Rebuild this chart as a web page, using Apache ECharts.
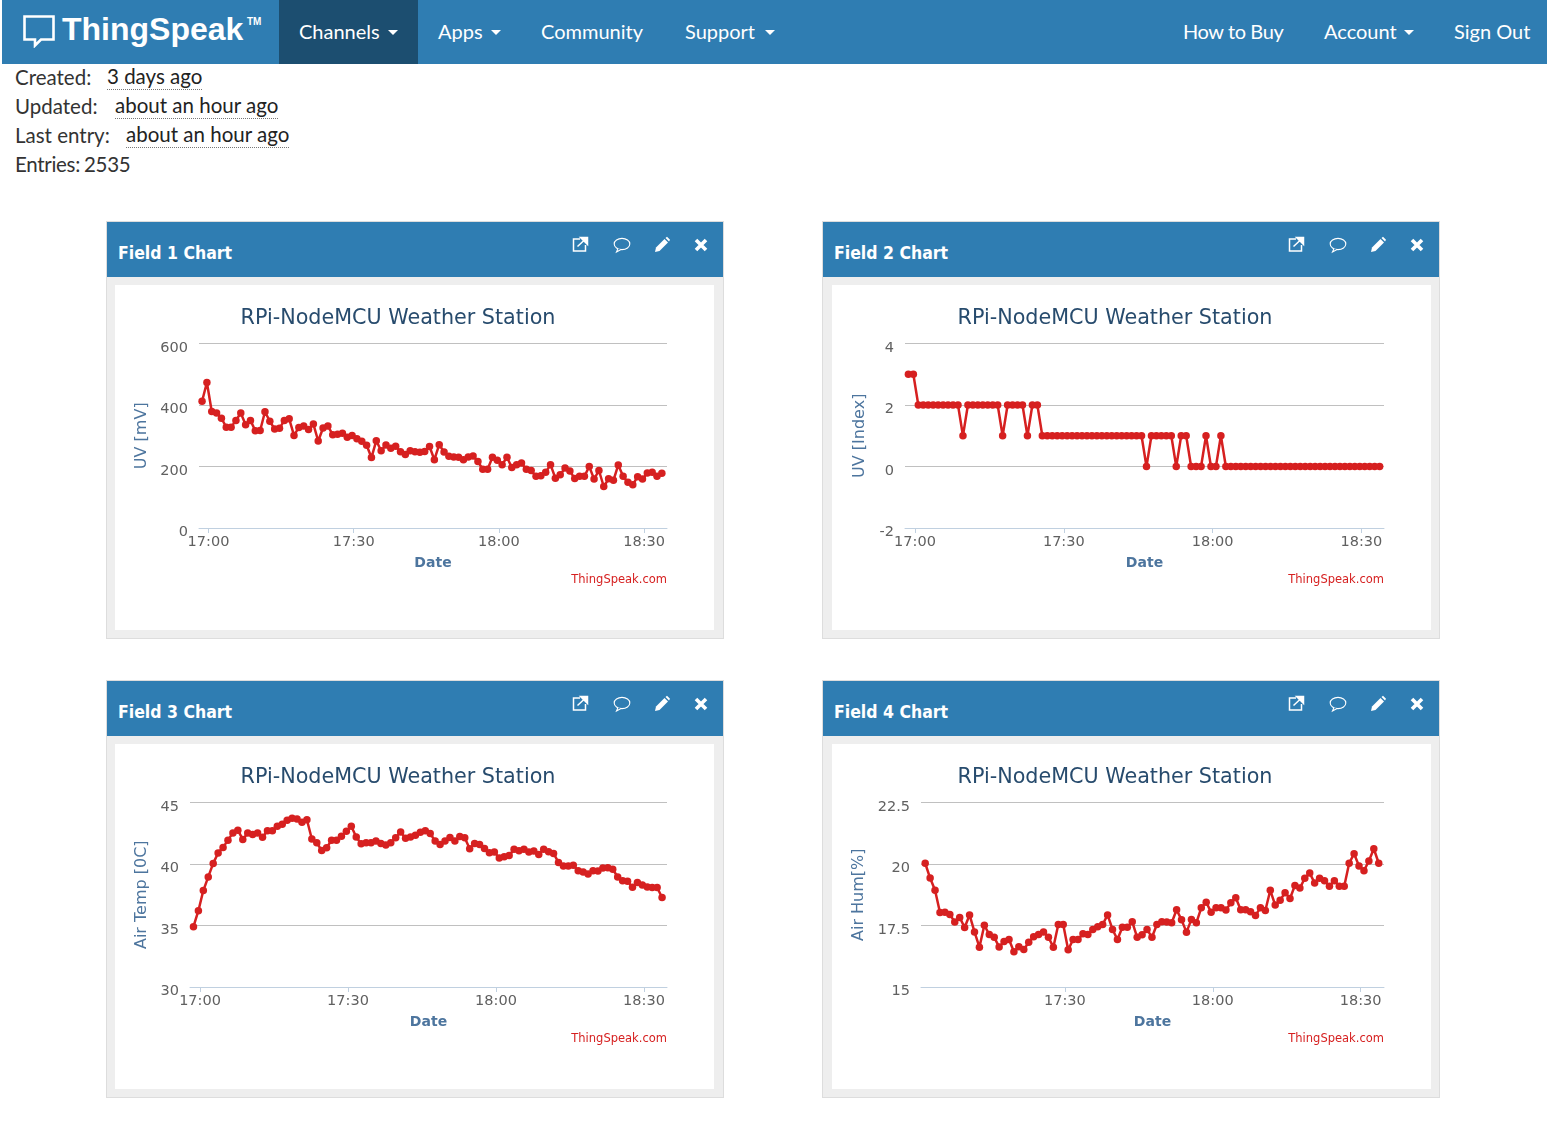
<!DOCTYPE html>
<html>
<head>
<meta charset="utf-8">
<title>ThingSpeak channel</title>
<script src="https://cdn.jsdelivr.net/npm/echarts@6/dist/echarts.min.js"></script>
<style>
    html, body { margin: 0; padding: 0; background: #fff; }
    body { position: relative; width: 1547px; height: 1125px; overflow: hidden; font-family: Lato, sans-serif; }
    .abs { position: absolute; white-space: nowrap; }
    #navbar { position: absolute; left: 2px; top: 0; width: 1545px; height: 64px; background: #2f7db2; }
    #active { position: absolute; left: 279px; top: 0; width: 139px; height: 64px; background: #1c4e70; }
    .nav { color: #fff; font-size: 20px; top: 18px; line-height: 26px; }
    .caret { position: absolute; width: 0; height: 0; top: 30px; border-left: 5px solid transparent; border-right: 5px solid transparent; border-top: 5px solid #fff; }
    #logo { left: 62px; top: 8px; color: #fff; font: bold 32px/42px "Liberation Sans", sans-serif; }
    #tm { left: 247px; top: 15px; color: #fff; font: bold 10px/14px "Liberation Sans", sans-serif; }
    .meta { font-size: 20.5px; line-height: 26px; color: #333; }
    .when { color: #222; border-bottom: 1px dotted #777; line-height: 25px; }
    .panel { position: absolute; width: 616px; height: 416px; background: #eee; border: 1px solid #ddd; }
    .panel .head { position: absolute; left: 0; top: 0; width: 616px; height: 55px; background: #2f7db2; }
    .panel .name { position: absolute; left: 11px; top: 19px; color: #fff; font: bold 17.5px/24px "DejaVu Sans Condensed", "DejaVu Sans", sans-serif; font-stretch: condensed; }
    .panel svg { position: absolute; top: 14px; }
    .chart { position: absolute; top: 63px; width: 599px; height: 345px; background: #fff; }
</style>
</head>
<body>
<div id="navbar"></div>
<div id="active"></div>
<svg class="abs" style="left:22px;top:14px" width="34" height="34" viewBox="0 0 34 34">
    <path d="M2.5 2.5H31.5V25.5H19L13 31.5V25.5H2.5Z" fill="none" stroke="#fff" stroke-width="2.6"/>
</svg>
<div id="logo" class="abs">ThingSpeak</div>
<div id="tm" class="abs">TM</div>
<div class="abs nav" style="left:299px">Channels</div><div class="caret" style="left:388px"></div>
<div class="abs nav" style="left:438px">Apps</div><div class="caret" style="left:491px"></div>
<div class="abs nav" style="left:541px">Community</div>
<div class="abs nav" style="left:685px">Support</div><div class="caret" style="left:765px"></div>
<div class="abs nav" style="left:1183px;letter-spacing:-0.4px">How to Buy</div>
<div class="abs nav" style="left:1324px">Account</div><div class="caret" style="left:1404px"></div>
<div class="abs nav" style="left:1454px">Sign Out</div>

<div class="abs meta" style="left:15px;top:64px">Created:</div>
<div class="abs meta when" style="left:107px;top:64px">3 days ago</div>
<div class="abs meta" style="left:15px;top:93px">Updated:</div>
<div class="abs meta when" style="left:115px;top:93px">about an hour ago</div>
<div class="abs meta" style="left:15px;top:122px">Last entry:</div>
<div class="abs meta when" style="left:126px;top:122px">about an hour ago</div>
<div class="abs meta" style="left:15px;top:151px;word-spacing:-1px;letter-spacing:-0.3px">Entries: 2535</div>

<script>
// all four fields share the same one minute samples, field 4 starts a few later
const day = '2017-05-20'
const times = [
    '16:58:40', '16:59:40', '17:00:40', '17:01:40', '17:02:40', '17:03:40', '17:04:40', '17:05:40',
    '17:06:40', '17:07:40', '17:08:40', '17:09:40', '17:10:40', '17:11:40', '17:12:40', '17:13:40',
    '17:14:40', '17:15:40', '17:16:40', '17:17:40', '17:18:40', '17:19:40', '17:20:40', '17:21:40',
    '17:22:40', '17:23:40', '17:24:40', '17:25:40', '17:26:40', '17:27:40', '17:28:40', '17:29:40',
    '17:30:40', '17:31:40', '17:32:40', '17:33:40', '17:34:40', '17:35:40', '17:36:40', '17:37:40',
    '17:38:40', '17:39:40', '17:40:40', '17:41:40', '17:42:40', '17:43:40', '17:44:40', '17:45:40',
    '17:46:40', '17:47:40', '17:48:40', '17:49:40', '17:50:40', '17:51:40', '17:52:40', '17:53:40',
    '17:54:40', '17:55:40', '17:56:40', '17:57:40', '17:58:40', '17:59:40', '18:00:40', '18:01:40',
    '18:02:40', '18:03:40', '18:04:40', '18:05:40', '18:06:40', '18:07:40', '18:08:40', '18:09:40',
    '18:10:40', '18:11:40', '18:12:40', '18:13:40', '18:14:40', '18:15:40', '18:16:40', '18:17:40',
    '18:18:40', '18:19:40', '18:20:40', '18:21:40', '18:22:40', '18:23:40', '18:24:40', '18:25:40',
    '18:26:40', '18:27:40', '18:28:40', '18:29:40', '18:30:40', '18:31:40', '18:32:40', '18:33:40'
]
const timeTicks = ['17:00:00', '17:30:00', '18:00:00', '18:30:00']
const field4TimeTicks = ['17:30:00', '18:00:00', '18:30:00']

const field1Values = [
    412, 473, 379, 374, 357, 328, 328, 350, 374, 336, 350, 316, 317, 378, 347, 322,
    324, 350, 355, 301, 327, 332, 320, 338, 283, 325, 332, 303, 305, 308, 295, 301,
    290, 282, 269, 229, 284, 251, 270, 259, 266, 248, 239, 251, 248, 246, 249, 265,
    222, 271, 247, 233, 231, 230, 222, 231, 234, 216, 191, 191, 230, 220, 206, 230,
    197, 206, 211, 191, 187, 168, 170, 181, 206, 162, 173, 195, 185, 161, 168, 168,
    200, 159, 187, 135, 160, 155, 205, 168, 149, 141, 167, 159, 179, 181, 168, 178
]
const field2Values = [
    3, 3, 2, 2, 2, 2, 2, 2, 2, 2, 2, 1, 2, 2, 2, 2,
    2, 2, 2, 1, 2, 2, 2, 2, 1, 2, 2, 1, 1, 1, 1, 1,
    1, 1, 1, 1, 1, 1, 1, 1, 1, 1, 1, 1, 1, 1, 1, 1,
    0, 1, 1, 1, 1, 1, 0, 1, 1, 0, 0, 0, 1, 0, 0, 1,
    0, 0, 0, 0, 0, 0, 0, 0, 0, 0, 0, 0, 0, 0, 0, 0,
    0, 0, 0, 0, 0, 0, 0, 0, 0, 0, 0, 0, 0, 0, 0, 0
]
const field3Values = [
    34.9, 36.2, 37.84, 38.95, 40.05, 40.9, 41.35, 41.94, 42.53, 42.75, 42.0, 42.53,
    42.4, 42.53, 42.18, 42.7, 42.7, 43.07, 43.23, 43.55, 43.72, 43.66, 43.4, 43.6,
    42.03, 41.73, 41.1, 41.32, 41.94, 41.94, 42.26, 42.67, 43.07, 42.2, 41.64, 41.73,
    41.73, 41.86, 41.67, 41.54, 41.73, 42.13, 42.6, 42.1, 42.2, 42.34, 42.58, 42.7,
    42.48, 41.86, 41.59, 41.86, 42.16, 41.86, 42.24, 42.13, 41.24, 41.67, 41.59, 41.27,
    40.92, 40.97, 40.49, 40.59, 40.7, 41.19, 41.08, 41.19, 40.97, 41.05, 40.78, 41.19,
    41.0, 40.86, 40.13, 39.84, 39.84, 39.89, 39.46, 39.35, 39.19, 39.46, 39.43, 39.68,
    39.7, 39.57, 38.95, 38.63, 38.6, 38.11, 38.49, 38.3, 38.14, 38.09, 38.09, 37.28
]
const field4Values = [
    20.03, 19.43, 18.93, 18.03, 18.04, 17.95, 17.64, 17.83, 17.42, 17.93, 17.24, 16.62,
    17.51, 17.13, 17.02, 16.63, 16.85, 16.93, 16.43, 16.64, 16.52, 16.82, 17.04, 17.13,
    17.24, 17.02, 16.62, 17.54, 17.54, 16.51, 16.93, 16.93, 17.16, 17.13, 17.34, 17.45,
    17.54, 17.93, 17.34, 16.93, 17.43, 17.43, 17.65, 17.02, 17.12, 17.34, 17.02, 17.54,
    17.65, 17.64, 17.61, 18.14, 17.73, 17.23, 17.74, 17.61, 18.22, 18.45, 18.04, 18.22,
    18.22, 18.13, 18.42, 18.63, 18.14, 18.14, 18.06, 17.91, 18.22, 18.11, 18.93, 18.33,
    18.53, 18.83, 18.6, 19.13, 19.02, 19.42, 19.63, 19.23, 19.42, 19.32, 19.1, 19.32,
    19.1, 19.1, 20.03, 20.42, 19.92, 19.73, 20.12, 20.62, 20.03
]

const fields = [
    { title: 'Field 1 Chart', left: 106, top: 221, inset: 8, yName: 'UV [mV]', yGap: 48, values: field1Values, times: times, ticks: timeTicks,
      plotLeft: 84, plotRight: 47, xMin: '16:58:02', xMax: '18:34:44', yMin: 0, yMax: 600, yStep: 200 },
    { title: 'Field 2 Chart', left: 822, top: 221, inset: 9, yName: 'UV [Index]', yGap: 37, values: field2Values, times: times, ticks: timeTicks,
      plotLeft: 73, plotRight: 47, xMin: '16:57:59', xMax: '18:34:33', yMin: -2, yMax: 4, yStep: 2 },
    { title: 'Field 3 Chart', left: 106, top: 680, inset: 8, yName: 'Air Temp [0C]', yGap: 39, values: field3Values, times: times, ticks: timeTicks,
      plotLeft: 75, plotRight: 47, xMin: '16:57:58', xMax: '18:34:40', yMin: 30, yMax: 45, yStep: 5 },
    { title: 'Field 4 Chart', left: 822, top: 680, inset: 9, yName: 'Air Hum[%]', yGap: 52, values: field4Values, times: times.slice(3), ticks: field4TimeTicks,
      plotLeft: 89, plotRight: 47, xMin: '17:00:49', xMax: '18:34:44', yMin: 15, yMax: 22.5, yStep: 2.5 }
]

const icons = [
    { x: 464, svg: '<path d="M9 3H2.5V15H14.5V9" fill="none" stroke="#fff" stroke-width="1.5"/><path d="M6.5 10.5L14 3.5M9.5 1.5H16.5V8.5Z" fill="#fff" stroke="#fff" stroke-width="1.5"/>' },
    { x: 506, svg: '<ellipse cx="9" cy="8" rx="7.8" ry="5.6" fill="none" stroke="#fff" stroke-width="1.1"/><path d="M5 12.5L3.5 16L8 13.5" fill="#2f7db2" stroke="#fff" stroke-width="1.1"/>' },
    { x: 546, svg: '<path d="M3 11.5L11.5 3L15 6.5L6.5 15L2 16Z" fill="#fff"/><path d="M12.5 2L14 .8L17 3.8L16 5.5Z" fill="#fff"/>' },
    { x: 585, svg: '<path d="M4 4L14 14M14 4L4 14" stroke="#fff" stroke-width="3.6" fill="none"/>' }
]

function makeOption(field) {
    const chartFont = '"DejaVu Sans", sans-serif'
    const tickDates = field.ticks.map(t => day + ' ' + t)
    return {
        animation: false,
        title: [
            { text: 'RPi-NodeMCU Weather Station', left: 278, top: 18, textAlign: 'center',
              textStyle: { color: '#274b6d', fontSize: 20.7, fontWeight: 'normal', fontFamily: chartFont } },
            { text: 'ThingSpeak.com', right: 42, top: 284,
              textStyle: { color: '#d62020', fontSize: 11.5, fontWeight: 'normal', fontFamily: chartFont } }
        ],
        grid: { left: field.plotLeft, right: field.plotRight, top: 58.5, bottom: 102 },
        xAxis: {
            type: 'time',
            min: day + ' ' + field.xMin,
            max: day + ' ' + field.xMax,
            name: 'Date',
            nameLocation: 'middle',
            nameGap: 28,
            nameTextStyle: { color: '#4d759e', fontSize: 14, fontWeight: 'bold', fontFamily: chartFont },
            axisLine: { onZero: false, lineStyle: { color: '#c0d0e0', width: 1 } },
            axisTick: { length: 5, lineStyle: { color: '#c0d0e0' }, customValues: tickDates },
            axisLabel: {
                color: '#606060', fontSize: 14.5, fontFamily: chartFont, margin: 7,
                customValues: tickDates, formatter: '{HH}:{mm}', showMinLabel: true, showMaxLabel: true
            },
            splitLine: { show: false }
        },
        yAxis: {
            type: 'value',
            min: field.yMin,
            max: field.yMax,
            interval: field.yStep,
            name: field.yName,
            nameLocation: 'middle',
            nameGap: field.yGap,
            nameTextStyle: { color: '#4d759e', fontSize: 16, fontFamily: chartFont },
            axisLine: { show: false },
            axisTick: { show: false },
            // the labels sit a little under their grid line
            axisLabel: { color: '#606060', fontSize: 14.5, fontFamily: chartFont, margin: 11, verticalAlign: 'top', lineHeight: 9 },
            splitLine: { lineStyle: { color: '#c0c0c0', width: 1 } }
        },
        series: [{
            type: 'line',
            data: field.values.map((v, i) => [day + ' ' + field.times[i], v]),
            symbol: 'circle',
            symbolSize: 7.5,
            showAllSymbol: true,
            itemStyle: { color: '#d62020' },
            lineStyle: { color: '#d62020', width: 2.5 }
        }]
    }
}

fields.forEach(field => {
    const panel = document.createElement('div')
    panel.className = 'panel'
    panel.style.left = field.left + 'px'
    panel.style.top = field.top + 'px'
    const icon = icons.map(i => '<svg style="left:' + i.x + 'px" width="18" height="18" viewBox="0 0 18 18">' + i.svg + '</svg>').join('')
    panel.innerHTML = '<div class="head"><div class="name">' + field.title + '</div>' + icon + '</div><div class="chart" style="left:' + field.inset + 'px"></div>'
    document.body.appendChild(panel)
    const chart = echarts.init(panel.querySelector('.chart'))
    chart.setOption(makeOption(field))
})
</script>
</body>
</html>
